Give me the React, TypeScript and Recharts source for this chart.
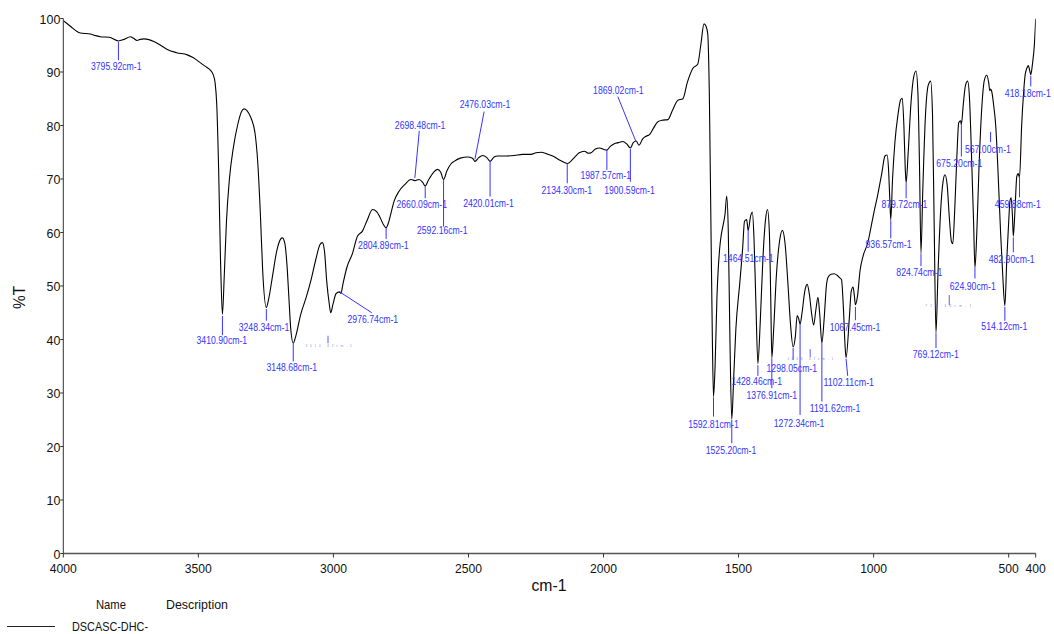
import React from "react";
import {
  LineChart,
  Line,
  XAxis,
  YAxis,
  ReferenceLine,
  ReferenceDot,
} from "recharts";

// FT-IR transmittance spectrum (wavenumber in cm-1, %T)
const wavenumbers = [
  4000, 3975, 3950, 3937, 3900, 3880, 3863, 3830, 3795.92, 3775, 3752, 3740, 3727, 3715, 3702,
  3680, 3665, 3640, 3615, 3580, 3541, 3520, 3492, 3470, 3455, 3445, 3438, 3432, 3425, 3418,
  3410.9, 3404, 3396, 3385, 3370, 3355, 3340, 3331, 3320, 3305, 3290, 3280, 3270, 3262,
  3248.34, 3240, 3225, 3210, 3195, 3189, 3180, 3172, 3165, 3158, 3148.68, 3140, 3121, 3100,
  3084, 3065, 3050, 3041, 3033, 3025, 3015, 3010, 3002, 2990, 2976.74, 2972, 2965, 2950, 2930,
  2911, 2892, 2875, 2855, 2840, 2830, 2815, 2804.89, 2795, 2785, 2775, 2757, 2735, 2713,
  2698.48, 2683, 2670, 2660.09, 2648, 2630, 2615, 2603, 2592.16, 2580, 2565, 2553, 2530, 2503,
  2485, 2476.03, 2462, 2448, 2432, 2420.01, 2405, 2392, 2360, 2330, 2300, 2268, 2250, 2231,
  2210, 2188, 2165, 2145, 2134.3, 2110, 2090, 2071, 2055, 2046, 2030, 2015, 1998, 1987.57,
  1975, 1960, 1945, 1929, 1915, 1900.59, 1890, 1879, 1869.02, 1855, 1842, 1830, 1815, 1799,
  1780, 1762, 1745, 1725, 1706, 1690, 1669, 1651, 1640, 1628, 1620, 1614, 1608, 1602, 1597,
  1592.81, 1587, 1580, 1570, 1564, 1558, 1550, 1544, 1538, 1532, 1525.2, 1518, 1510, 1496,
  1485, 1478, 1470, 1464.51, 1455, 1449, 1443, 1436, 1428.46, 1420, 1410, 1400, 1393, 1386,
  1381, 1376.91, 1370, 1360, 1348, 1338, 1328, 1318, 1308, 1298.05, 1290, 1283, 1278, 1272.34,
  1265, 1255, 1246, 1238, 1230, 1222, 1214, 1206, 1200, 1191.62, 1183, 1175, 1169, 1158, 1146,
  1135, 1125, 1119, 1112, 1106, 1102.11, 1090, 1083, 1076, 1071, 1067.45, 1060, 1050, 1039,
  1020, 1014, 1000, 985, 970, 958, 950, 945, 940, 936.57, 930, 921, 910, 900, 894, 888, 883,
  879.72, 872, 862, 852, 843, 836, 830, 824.74, 818, 808, 798, 789, 782, 776, 769.12, 762, 752,
  743, 736, 728, 720, 712, 707, 700, 692, 685, 678, 675.2, 668, 660, 652, 645, 638, 630, 624.9,
  618, 610, 600, 590, 581, 574, 570, 567, 563, 555, 548, 540, 530, 522, 514.12, 507, 500, 495,
  491, 486, 482.9, 476, 470, 465, 459.88, 452, 445, 439, 432, 427, 422, 418.18, 412, 405, 400,
];

const transmittance = [
  99.6, 98.6, 97.6, 97.3, 97.1, 96.8, 96.6, 96.5, 95.8, 96.1, 96.6, 96.3, 95.9, 96.1, 96.2,
  96.0, 95.7, 95.0, 94.2, 93.6, 93.2, 92.7, 91.7, 90.9, 90.3, 89.5, 88.0, 84, 72, 55,
  44.7, 52, 62, 70, 76, 80, 82.6, 83.1, 82.8, 81.4, 78.5, 73, 63, 53,
  46.0, 47.5, 52, 56.5, 58.8, 59, 58, 54, 48, 42, 39.3, 40.5, 44.7, 48,
  50.9, 55, 57.7, 58.1, 56.5, 51, 46.5, 45.0, 46.5, 48.6, 48.9, 48.6, 50.3, 53.5, 56,
  59.3, 60.3, 62.3, 64.3, 63.9, 63.1, 61.5, 60.9, 62, 64, 65.9, 67.7, 69, 69.9,
  69.7, 69.9, 69.4, 68.7, 69.8, 71.2, 71.8, 71.3, 69.9, 71.5, 72.8, 73.3, 73.9, 74.1,
  73.9, 73.3, 74.0, 74.4, 74.0, 73.3, 74.1, 74.3, 74.3, 74.4, 74.6, 74.6, 74.9, 75.0,
  74.7, 74.3, 73.6, 73.1, 72.9, 73.9, 74.9, 75.2, 74.8, 74.9, 75.6, 75.8, 75.5, 75.4,
  76.1, 76.6, 76.8, 77.0, 76.6, 75.8, 76.8, 77.1, 76.3, 77.5, 78.0, 78.3, 79.5, 80.7,
  81.0, 81.1, 82.8, 84.7, 85.0, 88, 90.7, 91.5, 95, 99.0, 98.5, 97.0, 85, 60, 40,
  29.3, 35, 48, 57, 59.6, 61.2, 63.5, 66.8, 60, 40, 25.1, 33, 42, 50.3,
  57, 62.1, 62.4, 60.4, 63.2, 63.8, 59, 47, 35.5, 43, 55, 62.5, 64.3, 60,
  48, 36.6, 42, 52, 58.5, 60.4, 58, 51, 43, 38.6, 40.5, 44.5, 44.0, 42.9,
  45, 49, 50.3, 48.5, 45, 42.7, 45.5, 47.9, 45, 39.4, 44, 50, 51.6, 52.2, 52.3,
  52.0, 51.5, 51.2, 46, 39, 36.6, 44, 49, 49.8, 48, 46.5, 48, 53, 55.6,
  58.4, 59.9, 63.5, 67, 71, 74.3, 74.5, 72, 66, 62.4, 70, 77, 82, 84.8, 85.1, 80, 72,
  69.3, 75, 84, 89, 90.2, 86, 72, 56.2, 68, 82, 87.5, 88.3, 82, 62, 41.3, 52, 64,
  69.5, 70.8, 69, 63, 58.3, 57.9, 64, 74, 80.5, 80.9, 80.2, 84, 87.5, 88.3, 85, 75, 62, 53.4,
  60, 72, 83, 88.5, 89.4, 88, 86.5, 86.8, 86.4, 83.5, 80, 72, 60, 52, 46.3, 55, 62, 66,
  66.5, 63, 59.3, 65, 70.5, 71, 70.3, 80, 86, 89.5, 90.8, 91.2, 90.2, 89.5, 91.5, 95, 100,
];

const spectrum = wavenumbers.map((wn, i) => ({ wn, t: transmittance[i] }));

const xTicks = [4000, 3500, 3000, 2500, 2000, 1500, 1000, 500, 400];
const yTicks = [0, 10, 20, 30, 40, 50, 60, 70, 80, 90, 100];

// Peak picks: leader from (x, y1) to (x2, y2), text centred at (tx, ty), all in data units
const peakMarks = [
  { label: "3795.92cm-1", x: 3795.92, y1: 95.6, x2: 3795.92, y2: 92.2, tx: 3804, ty: 91.0 },
  { label: "3410.90cm-1", x: 3410.9, y1: 44.4, x2: 3410.9, y2: 40.8, tx: 3413, ty: 39.8 },
  { label: "3248.34cm-1", x: 3248.34, y1: 45.7, x2: 3248.34, y2: 43.5, tx: 3257, ty: 42.3 },
  { label: "3148.68cm-1", x: 3148.68, y1: 39.2, x2: 3148.68, y2: 35.9, tx: 3154, ty: 34.7 },
  { label: "2976.74cm-1", x: 2976.74, y1: 48.9, x2: 2858, y2: 45.0, tx: 2854, ty: 43.8 },
  { label: "3010.82cm-1", x: 3020, y1: 40.7, x2: 3020, y2: 39.3, tx: 3018, ty: 38.8, tiny: true },
  { label: "2804.89cm-1", x: 2804.89, y1: 60.9, x2: 2804.89, y2: 58.8, tx: 2815, ty: 57.5 },
  { label: "2698.48cm-1", x: 2698.48, y1: 70.2, x2: 2682, y2: 79.0, tx: 2679, ty: 80.1 },
  { label: "2660.09cm-1", x: 2660.09, y1: 68.7, x2: 2660.09, y2: 66.4, tx: 2673, ty: 65.3 },
  { label: "2592.16cm-1", x: 2592.16, y1: 69.8, x2: 2592.16, y2: 61.1, tx: 2597, ty: 60.3 },
  { label: "2476.03cm-1", x: 2476.03, y1: 73.7, x2: 2442, y2: 82.6, tx: 2439, ty: 84.0 },
  { label: "2420.01cm-1", x: 2420.01, y1: 73.4, x2: 2420.01, y2: 66.7, tx: 2426, ty: 65.5 },
  { label: "2134.30cm-1", x: 2134.3, y1: 72.9, x2: 2134.3, y2: 69.2, tx: 2136, ty: 67.8 },
  { label: "1987.57cm-1", x: 1987.57, y1: 75.4, x2: 1987.57, y2: 71.7, tx: 1992, ty: 70.6 },
  { label: "1900.59cm-1", x: 1900.59, y1: 75.6, x2: 1900.59, y2: 69.5, tx: 1904, ty: 67.8 },
  { label: "1869.02cm-1", x: 1880, y1: 77.0, x2: 1947, y2: 85.4, tx: 1945, ty: 86.6 },
  { label: "1592.81cm-1", x: 1592.81, y1: 29.2, x2: 1592.81, y2: 25.6, tx: 1593, ty: 24.2 },
  { label: "1525.20cm-1", x: 1525.2, y1: 25.0, x2: 1525.2, y2: 20.6, tx: 1528, ty: 19.3 },
  { label: "1464.51cm-1", x: 1464.51, y1: 60.5, x2: 1464.51, y2: 56.4, tx: 1464, ty: 55.2 },
  { label: "1428.46cm-1", x: 1428.46, y1: 35.2, x2: 1428.46, y2: 33.2, tx: 1433, ty: 32.1 },
  { label: "1376.91cm-1", x: 1376.91, y1: 36.5, x2: 1376.91, y2: 30.9, tx: 1377, ty: 29.5 },
  { label: "1298.05cm-1", x: 1298.05, y1: 38.4, x2: 1298.05, y2: 36.2, tx: 1303, ty: 34.6 },
  { label: "1238.47cm-1", x: 1235, y1: 38.2, x2: 1235, y2: 36.7, tx: 1235, ty: 36.4, tiny: true },
  { label: "1272.34cm-1", x: 1272.34, y1: 42.9, x2: 1272.34, y2: 25.9, tx: 1276, ty: 24.3 },
  { label: "1191.62cm-1", x: 1191.62, y1: 39.4, x2: 1191.62, y2: 28.4, tx: 1143, ty: 27.1 },
  { label: "1102.11cm-1", x: 1102.11, y1: 36.4, x2: 1096, y2: 33.2, tx: 1092, ty: 32.0 },
  { label: "1067.45cm-1", x: 1067.45, y1: 46.1, x2: 1067.45, y2: 43.6, tx: 1069, ty: 42.3 },
  { label: "936.57cm-1", x: 936.57, y1: 62.3, x2: 936.57, y2: 58.9, tx: 945, ty: 57.7 },
  { label: "879.72cm-1", x: 879.72, y1: 69.3, x2: 879.72, y2: 66.4, tx: 886, ty: 65.3 },
  { label: "824.74cm-1", x: 824.74, y1: 56.1, x2: 824.74, y2: 53.7, tx: 831, ty: 52.6 },
  { label: "769.12cm-1", x: 769.12, y1: 41.2, x2: 769.12, y2: 38.4, tx: 770, ty: 37.3 },
  { label: "720.64cm-1", x: 720, y1: 48.3, x2: 720, y2: 46.4, tx: 724, ty: 46.3, tiny: true },
  { label: "675.20cm-1", x: 675.2, y1: 80.4, x2: 675.2, y2: 74.2, tx: 683, ty: 72.9 },
  { label: "624.90cm-1", x: 624.9, y1: 53.4, x2: 624.9, y2: 51.4, tx: 633, ty: 49.9 },
  { label: "567.00cm-1", x: 567, y1: 78.8, x2: 567, y2: 76.9, tx: 577, ty: 75.6 },
  { label: "514.12cm-1", x: 514.12, y1: 46.1, x2: 514.12, y2: 43.5, tx: 516, ty: 42.4 },
  { label: "482.90cm-1", x: 482.9, y1: 59.1, x2: 482.9, y2: 56.3, tx: 489, ty: 55.0 },
  { label: "459.88cm-1", x: 459.88, y1: 70.6, x2: 459.88, y2: 66.6, tx: 466, ty: 65.3 },
  { label: "418.18cm-1", x: 418.18, y1: 89.3, x2: 418.18, y2: 87.3, tx: 429, ty: 86.0 },
];

const BLUE = "#3434ff";
const FONT = "'Liberation Sans', Arial, sans-serif";

const makePeakLabel = (text: string, tiny?: boolean) => (props: any) => {
  const vb = props.viewBox || {};
  const cx = (vb.x ?? 0) + (vb.width ?? 0) / 2;
  const cy = (vb.y ?? 0) + (vb.height ?? 0) / 2;
  if (tiny) {
    return (
      <text
        x={cx}
        y={cy + 1}
        textAnchor="middle"
        fontSize={3}
        fill={BLUE}
        fillOpacity={0.7}
        fontFamily={FONT}
        textLength={46}
        lengthAdjust="spacing"
      >
        {text}
      </text>
    );
  }
  return (
    <text
      x={cx}
      y={cy + 3.6}
      textAnchor="middle"
      fontSize={10.5}
      fill={BLUE}
      fontFamily={FONT}
      textLength={text.length * 4.6}
      lengthAdjust="spacingAndGlyphs"
    >
      {text}
    </text>
  );
};

const XTick = (props: any) => {
  const { x, y, payload } = props;
  const s = String(payload.value);
  return (
    <text
      x={x}
      y={y + 13}
      textAnchor="middle"
      fontSize={13.5}
      fill="#111"
      fontFamily={FONT}
      textLength={s.length * 6.75}
      lengthAdjust="spacingAndGlyphs"
    >
      {s}
    </text>
  );
};

const YTick = (props: any) => {
  const { x, y, payload } = props;
  const s = String(payload.value);
  return (
    <text
      x={x}
      y={y + 5}
      textAnchor="end"
      fontSize={13.5}
      fill="#111"
      fontFamily={FONT}
      textLength={s.length * 6.9}
      lengthAdjust="spacingAndGlyphs"
    >
      {s}
    </text>
  );
};

export default function App() {
  return (
    <div style={{ position: "absolute", left: 0, top: 0, width: 1054, height: 634, background: "#fff" }}>
      <LineChart
        width={1054}
        height={634}
        data={spectrum}
        margin={{ top: 18.5, right: 18.3, left: 0, bottom: 50.5 }}
      >
        <XAxis
          dataKey="wn"
          type="number"
          domain={[400, 4000]}
          reversed
          ticks={xTicks}
          interval={0}
          tickSize={4}
          tickMargin={2}
          height={30}
          stroke="#555"
          strokeWidth={1.6}
          tickLine={{ stroke: "#333", strokeWidth: 1 }}
          tick={<XTick />}
          allowDataOverflow
        />
        <YAxis
          type="number"
          domain={[0, 100]}
          ticks={yTicks}
          interval={0}
          width={63.3}
          tickSize={3}
          tickMargin={0}
          stroke="#333"
          tick={<YTick />}
          allowDataOverflow
        />
        <Line
          dataKey="t"
          type="monotone"
          stroke="#000"
          strokeWidth={1.1}
          dot={false}
          activeDot={false}
          isAnimationActive={false}
        />
        {peakMarks.map((m) => (
          <ReferenceLine
            key={"l" + m.label}
            segment={[
              { x: m.x, y: m.y1 },
              { x: m.x2, y: m.y2 },
            ]}
            stroke={BLUE}
            strokeWidth={1}
            strokeOpacity={m.tiny ? 0.8 : 1}
          />
        ))}
        {peakMarks.map((m) => (
          <ReferenceDot
            key={"t" + m.label}
            x={m.tx}
            y={m.ty}
            r={0}
            fill="none"
            stroke="none"
            label={makePeakLabel(m.label, m.tiny)}
          />
        ))}
      </LineChart>
      <svg
        width={1054}
        height={634}
        style={{ position: "absolute", left: 0, top: 0, pointerEvents: "none" }}
      >
        <text
          x={549}
          y={591}
          textAnchor="middle"
          fontSize={17}
          fontFamily={FONT}
          fill="#111"
          textLength={35}
          lengthAdjust="spacingAndGlyphs"
        >
          cm-1
        </text>
        <text
          x={0}
          y={0}
          transform="translate(24.5,297.5) rotate(-90)"
          textAnchor="middle"
          fontSize={17}
          fontFamily={FONT}
          fill="#111"
          textLength={23}
          lengthAdjust="spacingAndGlyphs"
        >
          %T
        </text>
        <text x={96} y={609} fontSize={13} fontFamily={FONT} fill="#111" textLength={30} lengthAdjust="spacingAndGlyphs">
          Name
        </text>
        <text x={166} y={609} fontSize={13} fontFamily={FONT} fill="#111" textLength={62} lengthAdjust="spacingAndGlyphs">
          Description
        </text>
        <line x1={7} y1={626.5} x2={55} y2={626.5} stroke="#222" strokeWidth={1} />
        <text x={72} y={631} fontSize={13} fontFamily={FONT} fill="#111" textLength={76} lengthAdjust="spacingAndGlyphs">
          DSCASC-DHC-
        </text>
      </svg>
    </div>
  );
}
